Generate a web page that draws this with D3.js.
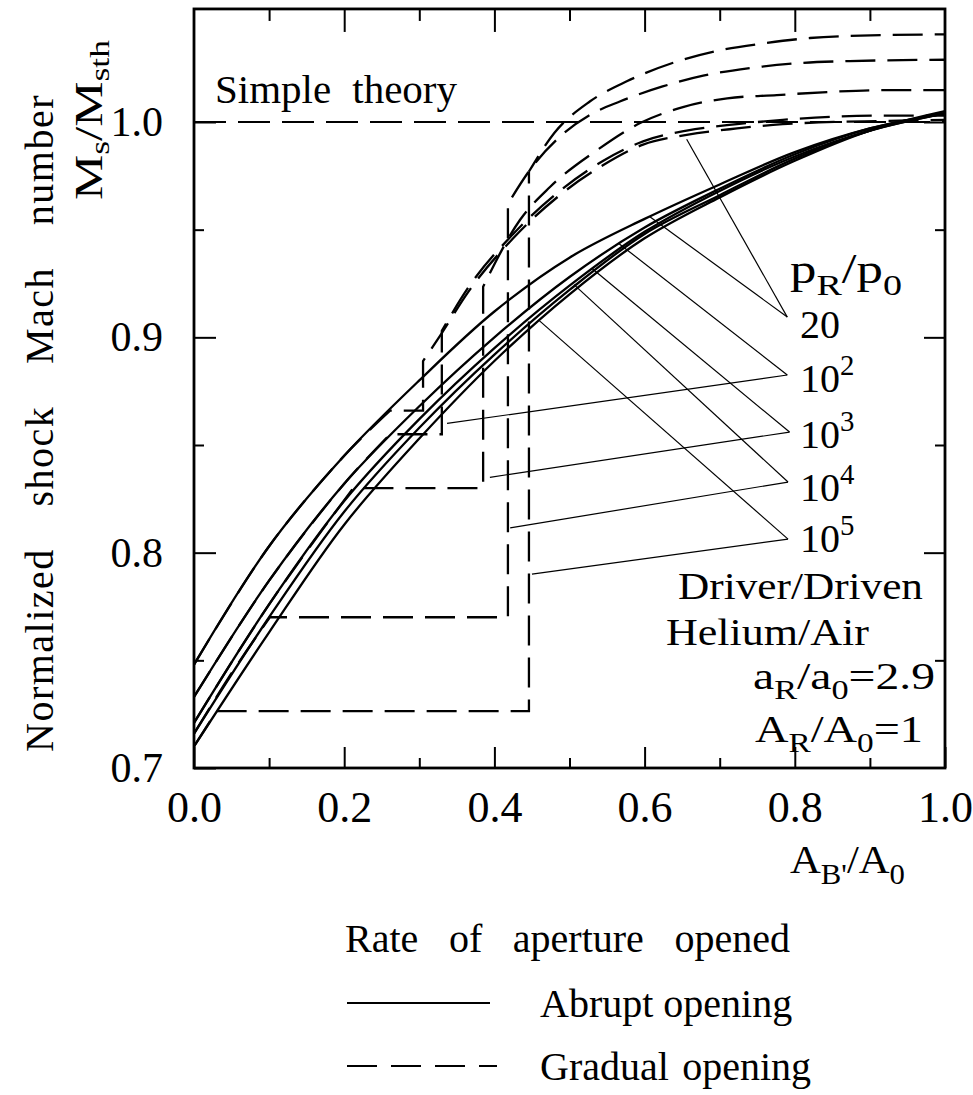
<!DOCTYPE html>
<html><head><meta charset="utf-8">
<script src="https://cdn.jsdelivr.net/npm/d3@7"></script>
<style>
body{margin:0;background:#fff;}
svg{display:block;}
text{font-family:'Liberation Serif','Times New Roman',serif;fill:#000;}
</style></head><body>
<svg id="chart" width="973" height="1095"></svg>
<script>
// ---------- data ----------
const xMajorTicks = [0, 0.2, 0.4, 0.6, 0.8, 1.0];
const xMinorTicks = [0.1, 0.3, 0.5, 0.7, 0.9];
const xTickLabels = ["0.0", "0.2", "0.4", "0.6", "0.8", "1.0"];
const yMajorTicks = [0.7, 0.8, 0.9, 1.0];
const yMinorTicks = [0.75, 0.85, 0.95];
const yTickLabels = ["0.7", "0.8", "0.9", "1.0"];
const pressureRatios = ["20", "10^2", "10^3", "10^4", "10^5"];

// abrupt opening (solid), sampled at abruptX
const abruptX    = [0, 0.1, 0.2, 0.3, 0.4, 0.5, 0.6, 0.7, 0.8, 0.9, 1.0];
const abrupt20   = [0.748, 0.803, 0.845, 0.880, 0.912, 0.937, 0.955, 0.971, 0.986, 0.997, 1.004];
const abrupt1e2  = [0.733, 0.787, 0.832, 0.868, 0.900, 0.928, 0.951, 0.969, 0.985, 0.997, 1.004];
const abrupt1e3  = [0.721, 0.776, 0.824, 0.862, 0.895, 0.924, 0.949, 0.968, 0.984, 0.996, 1.004];
const abrupt1e4  = [0.716, 0.770, 0.819, 0.858, 0.892, 0.922, 0.948, 0.966, 0.983, 0.996, 1.004];
const abrupt1e5  = [0.710, 0.763, 0.813, 0.853, 0.889, 0.920, 0.946, 0.965, 0.982, 0.996, 1.005];

// gradual opening (dashed): lower branch, jump position, upper branch
const gradual20Lower  = [[0, 0.748], [0.1, 0.803], [0.2, 0.845], [0.261, 0.866]];
const gradual20Upper  = [[0.305, 0.889], [0.33, 0.902], [0.365, 0.921], [0.425, 0.946], [0.487, 0.966], [0.545, 0.980], [0.598, 0.9895], [0.656, 0.994], [0.723, 0.997], [0.784, 0.999], [0.917, 1.0005], [1.0, 1.001]];
const gradual1e2Lower = [[0, 0.733], [0.1, 0.787], [0.2, 0.832], [0.261, 0.855]];
const gradual1e2Upper = [[0.33, 0.903], [0.365, 0.923], [0.425, 0.948], [0.487, 0.968], [0.545, 0.982], [0.598, 0.991], [0.656, 0.996], [0.723, 0.999], [0.784, 1.001], [0.917, 1.003], [1.0, 1.003]];
const gradual1e3Lower = [[0, 0.721], [0.1, 0.776], [0.212, 0.830]];
const gradual1e3Upper = [[0.385, 0.9235], [0.434, 0.9545], [0.474, 0.9698], [0.537, 0.987], [0.594, 0.9995], [0.651, 1.0069], [0.71, 1.011], [0.776, 1.0125], [0.843, 1.0139], [0.917, 1.0148], [1.0, 1.0148]];
const gradual1e4Lower = [[0, 0.716], [0.05, 0.744], [0.101, 0.770]];
const gradual1e4Upper = [[0.418, 0.962], [0.45, 0.979], [0.49, 0.994], [0.531, 1.004], [0.567, 1.0095], [0.624, 1.0165], [0.678, 1.0215], [0.74, 1.025], [0.803, 1.0273], [0.873, 1.0283], [1.0, 1.0289]];
const gradual1e5Lower = [[0, 0.710], [0.03, 0.7264]];
const gradual1e5Upper = [[0.446, 0.977], [0.48, 0.995], [0.527, 1.0095], [0.577, 1.019], [0.638, 1.0275], [0.696, 1.033], [0.758, 1.0365], [0.82, 1.039], [0.874, 1.040], [1.0, 1.0407]];
const gradualJumpX = [0.305, 0.33, 0.385, 0.418, 0.446];

const simpleTheory = 1.0;

// label leader lines: vertex (data coords) and start points on curves
const leaderVertex = [[0.790, 0.9094], [0.790, 0.8825], [0.793, 0.8560], [0.791, 0.8328], [0.791, 0.8063]];
const leaderFromSolid   = [[0.607, 0.956], [0.566, 0.9435], [0.530, 0.932], [0.506, 0.9245], [0.459, 0.908]];
const leaderFromDashed  = [[0.656, 0.992], [0.337, 0.860], [0.394, 0.835], [0.421, 0.8115], [0.450, 0.790]];

// ---------- drawing ----------
const svg = d3.select("#chart");
const x = d3.scaleLinear().domain([0, 1]).range([194, 945]);
const y = d3.scaleLinear().domain([0.7, 1.0]).range([768, 122]);
const yMax = 1.0525;

// frame
svg.append("rect")
  .attr("x", x(0)).attr("y", y(yMax))
  .attr("width", x(1) - x(0)).attr("height", y(0.7) - y(yMax))
  .attr("fill", "none").attr("stroke", "#000").attr("stroke-width", 2.8);

function styleAxis(g) {
  g.select(".domain").remove();
  g.selectAll(".tick line").attr("stroke", "#000").attr("stroke-width", 2);
}
// bottom
svg.append("g").attr("transform", `translate(0,${y(0.7)})`)
  .call(d3.axisBottom(x).tickValues(xMajorTicks).tickSize(-21).tickPadding(23)
    .tickFormat((d, i) => xTickLabels[i]))
  .call(styleAxis)
  .call(g => g.selectAll("text").attr("font-size", 44).attr("font-family", "'Liberation Serif',serif"));
svg.append("g").attr("transform", `translate(0,${y(0.7)})`)
  .call(d3.axisBottom(x).tickValues(xMinorTicks).tickSize(-10).tickFormat(""))
  .call(styleAxis);
// top
svg.append("g").attr("transform", `translate(0,${y(yMax)})`)
  .call(d3.axisTop(x).tickValues(xMajorTicks.slice(1, -1)).tickSize(-23).tickFormat(""))
  .call(styleAxis);
svg.append("g").attr("transform", `translate(0,${y(yMax)})`)
  .call(d3.axisTop(x).tickValues(xMinorTicks).tickSize(-12).tickFormat(""))
  .call(styleAxis);
// left
svg.append("g").attr("transform", `translate(${x(0)},0)`)
  .call(d3.axisLeft(y).tickValues(yMajorTicks).tickSize(-22).tickPadding(31)
    .tickFormat((d, i) => yTickLabels[i]))
  .call(styleAxis)
  .call(g => g.selectAll("text").attr("font-size", 42).attr("font-family", "'Liberation Serif',serif"));
svg.append("g").attr("transform", `translate(${x(0)},0)`)
  .call(d3.axisLeft(y).tickValues(yMinorTicks).tickSize(-10).tickFormat(""))
  .call(styleAxis);
// right
svg.append("g").attr("transform", `translate(${x(1)},0)`)
  .call(d3.axisRight(y).tickValues(yMajorTicks.slice(1)).tickSize(-21).tickFormat(""))
  .call(styleAxis);
svg.append("g").attr("transform", `translate(${x(1)},0)`)
  .call(d3.axisRight(y).tickValues(yMinorTicks).tickSize(-10).tickFormat(""))
  .call(styleAxis);

// simple theory line
svg.append("line")
  .attr("x1", x(0)).attr("x2", x(1)).attr("y1", y(simpleTheory)).attr("y2", y(simpleTheory))
  .attr("stroke", "#000").attr("stroke-width", 2.2).attr("stroke-dasharray", "32,12");

const smooth = d3.line().x(d => x(d[0])).y(d => y(d[1])).curve(d3.curveMonotoneX);
const smoothCR = d3.line().x(d => x(d[0])).y(d => y(d[1])).curve(d3.curveCatmullRom.alpha(0.5));

// abrupt curves
[abrupt20, abrupt1e2, abrupt1e3, abrupt1e4, abrupt1e5].forEach(vals => {
  svg.append("path")
    .attr("d", smoothCR(abruptX.map((xv, i) => [xv, vals[i]])))
    .attr("fill", "none").attr("stroke", "#000").attr("stroke-width", 2.3);
});

// gradual curves
const gLower = [gradual20Lower, gradual1e2Lower, gradual1e3Lower, gradual1e4Lower, gradual1e5Lower];
const gUpper = [gradual20Upper, gradual1e2Upper, gradual1e3Upper, gradual1e4Upper, gradual1e5Upper];
gLower.forEach((low, i) => {
  const level = low[low.length - 1][1];
  const jx = gradualJumpX[i];
  const up = gUpper[i];
  const d = smoothCR(low)
    + `L${x(jx)},${y(level)}`
    + `L${x(jx)},${y(up[0][1])}`
    + smooth(up).replace(/^M/, "L");
  svg.append("path").attr("d", d)
    .attr("fill", "none").attr("stroke", "#000").attr("stroke-width", 2.3)
    .attr("stroke-dasharray", "30,12");
});

// leader lines
leaderVertex.forEach((v, i) => {
  [leaderFromSolid[i], leaderFromDashed[i]].forEach(s => {
    svg.append("line")
      .attr("x1", x(s[0])).attr("y1", y(s[1]))
      .attr("x2", x(v[0])).attr("y2", y(v[1]))
      .attr("stroke", "#000").attr("stroke-width", 1.2);
  });
});

// rich text helper: parts = [[text, kind]] kind: n, sub, sup
function rich(px, py, parts, size, width, adjust) {
  const t = svg.append("text").attr("x", px).attr("y", py).attr("font-size", size);
  let shift = 0;
  parts.forEach(([s, k]) => {
    let target = 0, fs = size;
    if (k === "sub") { target = size * 0.28; fs = size * 0.72; }
    if (k === "sup") { target = -size * 0.42; fs = size * 0.72; }
    t.append("tspan").attr("dy", target - shift).attr("font-size", fs).text(s);
    shift = target;
  });
  if (width) t.attr("textLength", width).attr("lengthAdjust", adjust || "spacingAndGlyphs");
  return t;
}
function fitWidth(t, w) {
  t.attr("textLength", w).attr("lengthAdjust", "spacingAndGlyphs");
}
function fitWords(t, w, ls) {
  if (ls) t.style("letter-spacing", ls + "px");
  const L = t.node().getComputedTextLength();
  const n = (t.text().match(/ /g) || []).length;
  if (n > 0) t.style("word-spacing", Math.max(0, (w - L) / n) + "px");
}

// labels on the right
rich(790, 283, [["p", "n"], ["R", "sub"], ["/p", "n"], ["0", "sub"]], 42, 112);
pressureRatios.forEach((lab, i) => {
  const by = [338, 392, 448, 501, 552][i];
  if (lab.includes("^")) {
    const [b, e] = lab.split("^");
    rich(800, by, [[b, "n"], [e, "sup"]], 40);
  } else {
    rich(800, by, [[lab, "n"]], 40);
  }
});
fitWidth(svg.append("text").attr("x", 678).attr("y", 599).attr("font-size", 37).text("Driver/Driven"), 245);
fitWidth(svg.append("text").attr("x", 666).attr("y", 645).attr("font-size", 37).text("Helium/Air"), 203);
rich(753, 689, [["a", "n"], ["R", "sub"], ["/a", "n"], ["0", "sub"], ["=2.9", "n"]], 37, 182);
rich(755, 742, [["A", "n"], ["R", "sub"], ["/A", "n"], ["0", "sub"], ["=1", "n"]], 37, 168);

// simple theory text
fitWords(svg.append("text").attr("x", 215).attr("y", 103).attr("font-size", 41).text("Simple theory"), 242);

// y axis titles
const yt = svg.append("text").attr("transform", "translate(53,752) rotate(-90)")
  .attr("font-size", 40).text("Normalized shock Mach number");
fitWords(yt, 658, 1.5);
const yt2 = svg.append("text").attr("transform", "translate(102,200) rotate(-90)").attr("font-size", 40);
[["M", 0], ["s", 1], ["/M", 0], ["sth", 1]].reduce((sh, [s, k]) => {
  const tg = k ? 7 : 0;
  yt2.append("tspan").attr("dy", tg - sh).attr("font-size", k ? 28 : 40).text(s);
  return tg;
}, 0);
yt2.attr("textLength", 160).attr("lengthAdjust", "spacingAndGlyphs");

// x axis title
rich(790, 873, [["A", "n"], ["B'", "sub"], ["/A", "n"], ["0", "sub"]], 40, 115);

// legend
fitWords(svg.append("text").attr("x", 345).attr("y", 952).attr("font-size", 40).text("Rate of aperture opened"), 445);
svg.append("line").attr("x1", 347).attr("x2", 490).attr("y1", 1003).attr("y2", 1003)
  .attr("stroke", "#000").attr("stroke-width", 2.2);
fitWords(svg.append("text").attr("x", 540).attr("y", 1017).attr("font-size", 40).text("Abrupt opening"), 250);
svg.append("line").attr("x1", 347).attr("x2", 497).attr("y1", 1066).attr("y2", 1066)
  .attr("stroke", "#000").attr("stroke-width", 2.2).attr("stroke-dasharray", "30,14");
fitWords(svg.append("text").attr("x", 540).attr("y", 1080).attr("font-size", 40).text("Gradual opening"), 271);
</script>
</body></html>
